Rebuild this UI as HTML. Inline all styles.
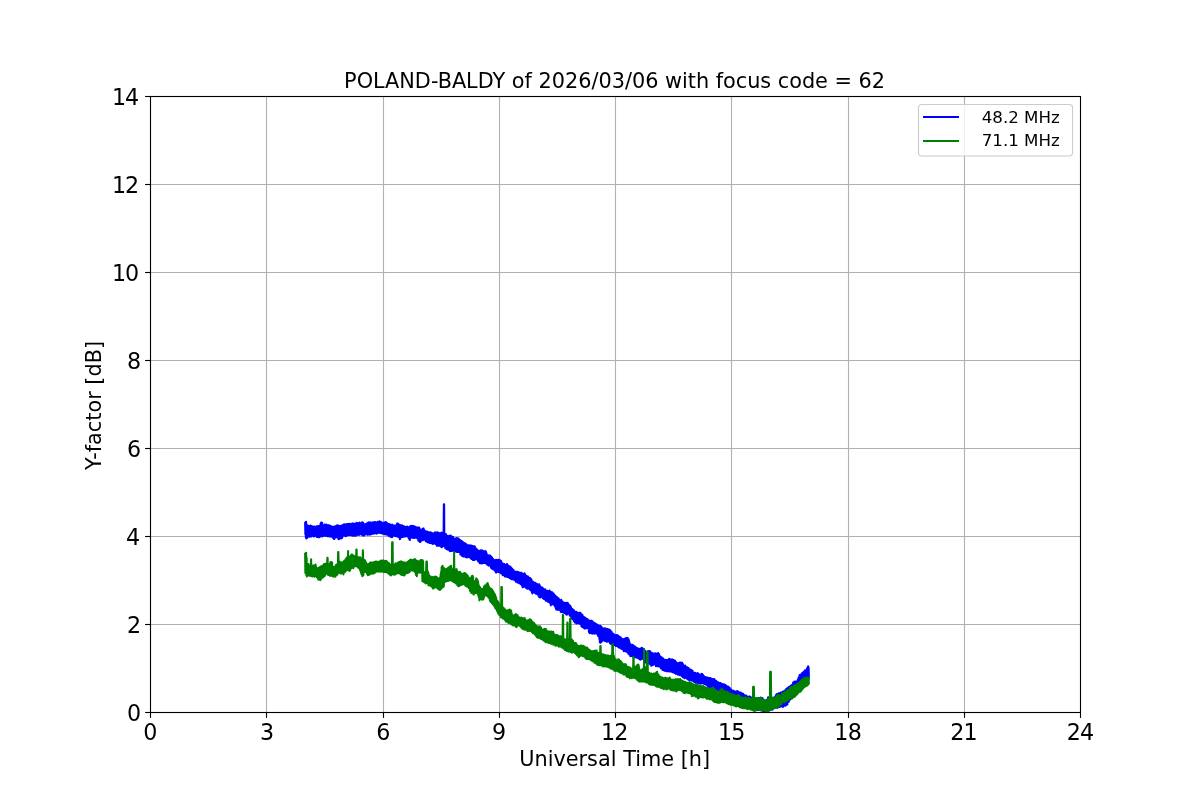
<!DOCTYPE html>
<html lang="en">
<head>
<meta charset="utf-8">
<title>POLAND-BALDY of 2026/03/06 with focus code = 62</title>
<style>
html,body{margin:0;padding:0;background:#fff;}
body{width:1200px;height:800px;overflow:hidden;}
svg{display:block;}
text{font-family:"DejaVu Sans","Liberation Sans",sans-serif;fill:#000;}
.tick{font-size:22.22px;}
.title{font-size:20.83px;}
.lab{font-size:20.83px;}
.leg{font-size:16.67px;}
</style>
</head>
<body>
<svg width="1200" height="800" viewBox="0 0 1200 800">
<rect x="0" y="0" width="1200" height="800" fill="#ffffff"/>
<g stroke="#b0b0b0" stroke-width="1.11" fill="none">
<line x1="266.5" y1="96.5" x2="266.5" y2="712.5"/>
<line x1="383.5" y1="96.5" x2="383.5" y2="712.5"/>
<line x1="499.5" y1="96.5" x2="499.5" y2="712.5"/>
<line x1="615.5" y1="96.5" x2="615.5" y2="712.5"/>
<line x1="731.5" y1="96.5" x2="731.5" y2="712.5"/>
<line x1="848.5" y1="96.5" x2="848.5" y2="712.5"/>
<line x1="964.5" y1="96.5" x2="964.5" y2="712.5"/>
<line x1="150.5" y1="624.5" x2="1080.5" y2="624.5"/>
<line x1="150.5" y1="536.5" x2="1080.5" y2="536.5"/>
<line x1="150.5" y1="448.5" x2="1080.5" y2="448.5"/>
<line x1="150.5" y1="360.5" x2="1080.5" y2="360.5"/>
<line x1="150.5" y1="272.5" x2="1080.5" y2="272.5"/>
<line x1="150.5" y1="184.5" x2="1080.5" y2="184.5"/>
</g>
<clipPath id="axclip"><rect x="150" y="96" width="931" height="617"/></clipPath>
<g clip-path="url(#axclip)" fill="none" stroke-width="2.08" stroke-linejoin="round" stroke-linecap="butt">
<polyline stroke="#0000ff" points="305.12,522.29 305.37,534.35 305.62,522.09 305.87,537.41 306.12,521.86 306.37,538.40 306.62,524.62 306.87,538.12 307.12,526.37 307.37,536.38 307.62,526.14 307.87,535.89 308.12,525.69 308.37,536.82 308.62,525.79 308.87,536.51 309.12,526.91 309.37,536.61 309.62,526.09 309.87,535.87 310.12,526.24 310.37,535.26 310.62,525.47 310.87,536.47 311.12,526.34 311.37,536.57 311.62,526.22 311.87,535.57 312.12,526.17 312.37,534.32 312.62,526.57 312.87,535.65 313.12,527.25 313.37,536.25 313.62,526.82 313.87,536.50 314.12,526.83 314.37,536.20 314.62,526.65 314.87,536.30 315.12,526.77 315.37,535.20 315.62,527.26 315.87,535.68 316.12,527.46 316.37,535.55 316.62,526.33 316.87,536.92 317.12,526.86 317.37,536.83 317.62,526.71 317.87,537.08 318.12,525.93 318.37,537.22 318.62,525.92 318.87,536.86 319.12,526.00 319.37,537.20 319.62,526.17 319.87,535.94 320.12,525.54 320.37,536.46 320.62,523.65 320.87,535.74 321.12,522.61 321.37,536.11 321.62,522.91 321.87,536.05 322.12,522.76 322.37,536.36 322.62,526.04 322.87,536.16 323.12,526.25 323.37,535.57 323.62,525.81 323.87,534.72 324.12,525.10 324.37,535.51 324.62,524.42 324.87,535.61 325.12,525.30 325.37,535.73 325.62,526.06 325.87,536.01 326.12,524.44 326.37,535.73 326.62,525.25 326.87,535.42 327.12,525.36 327.37,536.27 327.62,525.38 327.87,536.30 328.12,525.41 328.37,536.10 328.62,525.25 328.87,535.75 329.12,526.00 329.37,536.58 329.62,525.88 329.87,535.84 330.12,525.70 330.37,536.44 330.62,526.67 330.87,536.42 331.12,526.67 331.37,536.39 331.62,526.38 331.87,535.30 332.12,526.49 332.37,537.13 332.62,527.22 332.87,537.67 333.12,527.78 333.37,538.21 333.62,527.08 333.87,538.96 334.12,527.83 334.37,539.04 334.62,526.30 334.87,538.03 335.12,526.46 335.37,536.79 335.62,526.87 335.87,536.84 336.12,526.13 336.37,537.30 336.62,525.56 336.87,537.33 337.12,526.00 337.37,537.19 337.62,525.29 337.87,537.67 338.12,526.60 338.37,538.85 338.62,526.21 338.87,539.18 339.12,525.78 339.37,537.57 339.62,526.18 339.87,538.69 340.12,526.44 340.37,538.49 340.62,526.10 340.87,536.99 341.12,526.58 341.37,537.86 341.62,525.44 341.87,538.27 342.12,526.05 342.37,537.23 342.62,525.56 342.87,535.49 343.12,524.70 343.37,534.92 343.62,524.45 343.87,535.59 344.12,524.58 344.37,535.53 344.62,524.19 344.87,535.39 345.12,525.29 345.37,536.14 345.62,525.56 345.87,535.34 346.12,524.31 346.37,536.00 346.62,524.74 346.87,535.75 347.12,524.16 347.37,534.82 347.62,523.96 347.87,534.20 348.12,524.25 348.37,534.88 348.62,524.15 348.87,534.40 349.12,524.08 349.37,535.19 349.62,523.69 349.87,534.90 350.12,524.30 350.37,534.32 350.62,524.31 350.87,534.12 351.12,523.98 351.37,535.20 351.62,524.05 351.87,535.17 352.12,523.61 352.37,535.77 352.62,523.66 352.87,534.41 353.12,524.71 353.37,535.55 353.62,523.90 353.87,534.41 354.12,523.48 354.37,535.74 354.62,524.13 354.87,534.00 355.12,524.72 355.37,533.89 355.62,523.70 355.87,535.72 356.12,523.19 356.37,534.93 356.62,522.91 356.87,534.50 357.12,523.61 357.37,534.76 357.62,523.17 357.87,534.57 358.12,523.72 358.37,535.01 358.62,523.20 358.87,535.04 359.12,523.56 359.37,534.20 359.62,522.52 359.87,534.57 360.12,523.15 360.37,534.18 360.62,523.58 360.87,533.69 361.12,523.22 361.37,534.17 361.62,523.79 361.87,534.78 362.12,522.19 362.37,534.84 362.62,523.78 362.87,535.52 363.12,522.74 363.37,535.02 363.62,524.07 363.87,535.59 364.12,523.92 364.37,534.03 364.62,524.53 364.87,534.66 365.12,524.58 365.37,534.57 365.62,524.19 365.87,533.98 366.12,523.90 366.37,534.11 366.62,523.62 366.87,533.90 367.12,523.52 367.37,534.71 367.62,523.80 367.87,534.59 368.12,522.51 368.37,533.44 368.62,522.38 368.87,533.96 369.12,524.38 369.37,534.68 369.62,523.31 369.87,534.41 370.12,522.50 370.37,534.45 370.62,522.34 370.87,533.94 371.12,522.82 371.37,534.18 371.62,523.21 371.87,533.90 372.12,522.71 372.37,533.78 372.62,522.60 372.87,533.75 373.12,522.89 373.37,533.60 373.62,522.24 373.87,533.34 374.12,523.20 374.37,533.37 374.62,522.10 374.87,531.99 375.12,523.15 375.37,532.57 375.62,522.29 375.87,532.88 376.12,523.96 376.37,533.77 376.62,522.62 376.87,533.48 377.12,522.34 377.37,533.33 377.62,521.85 377.87,533.08 378.12,523.13 378.37,532.63 378.62,522.11 378.87,532.50 379.12,521.64 379.37,532.69 379.62,521.36 379.87,532.87 380.12,522.37 380.37,532.88 380.62,521.97 380.87,533.06 381.12,522.28 381.37,532.60 381.62,522.41 381.87,532.42 382.12,524.42 382.37,533.62 382.62,523.42 382.87,532.87 383.12,522.97 383.37,533.50 383.62,523.71 383.87,533.45 384.12,522.49 384.37,534.22 384.62,523.06 384.87,532.84 385.12,522.29 385.37,533.80 385.62,521.97 385.87,534.42 386.12,522.82 386.37,534.39 386.62,522.70 386.87,534.55 387.12,523.72 387.37,534.24 387.62,523.57 387.87,534.85 388.12,524.04 388.37,535.79 388.62,524.11 388.87,535.23 389.12,525.81 389.37,535.09 389.62,524.23 389.87,535.72 390.12,524.51 390.37,536.73 390.62,524.85 390.87,536.01 391.12,524.85 391.37,537.07 391.62,525.56 391.87,537.33 392.12,524.77 392.37,536.95 392.62,524.84 392.87,535.71 393.12,525.80 393.37,535.31 393.62,526.20 393.87,535.48 394.12,525.82 394.37,535.39 394.62,525.90 394.87,535.87 395.12,525.84 395.37,536.07 395.62,525.75 395.87,536.18 396.12,525.95 396.37,535.68 396.62,525.16 396.87,535.48 397.12,523.56 397.37,536.48 397.62,523.45 397.87,536.06 398.12,524.42 398.37,536.87 398.62,524.20 398.87,536.88 399.12,524.70 399.37,537.60 399.62,525.14 399.87,539.12 400.12,524.96 400.37,538.36 400.62,525.20 400.87,536.99 401.12,526.33 401.37,536.63 401.62,525.87 401.87,536.90 402.12,525.32 402.37,536.93 402.62,525.79 402.87,537.01 403.12,527.26 403.37,534.91 403.62,526.58 403.87,536.21 404.12,526.53 404.37,536.37 404.62,526.63 404.87,536.06 405.12,526.99 405.37,536.42 405.62,527.09 405.87,536.37 406.12,527.03 406.37,535.14 406.62,526.93 406.87,535.80 407.12,526.58 407.37,535.99 407.62,526.70 407.87,536.39 408.12,527.36 408.37,537.48 408.62,528.49 408.87,538.30 409.12,528.88 409.37,539.42 409.62,527.13 409.87,540.03 410.12,526.23 410.37,538.36 410.62,526.05 410.87,537.00 411.12,526.03 411.37,537.22 411.62,525.97 411.87,536.67 412.12,525.84 412.37,537.69 412.62,526.69 412.87,537.40 413.12,526.37 413.37,538.02 413.62,526.15 413.87,537.58 414.12,526.96 414.37,537.53 414.62,526.74 414.87,537.85 415.12,526.94 415.37,537.26 415.62,526.83 415.87,537.52 416.12,527.27 416.37,537.61 416.62,527.99 416.87,537.53 417.12,527.98 417.37,538.54 417.62,527.42 417.87,538.96 418.12,527.59 418.37,540.71 418.62,528.14 418.87,540.78 419.12,527.46 419.37,541.23 419.62,528.43 419.87,541.88 420.12,529.66 420.37,541.99 420.62,530.15 420.87,540.95 421.12,529.96 421.37,539.84 421.62,530.58 421.87,539.83 422.12,529.41 422.37,540.11 422.62,529.23 422.87,540.13 423.12,528.47 423.37,539.56 423.62,528.66 423.87,539.10 424.12,529.96 424.37,539.40 424.62,530.87 424.87,539.58 425.12,531.12 425.37,540.47 425.62,531.45 425.87,541.10 426.12,531.55 426.37,540.70 426.62,532.19 426.87,541.06 427.12,531.56 427.37,542.27 427.62,532.27 427.87,542.14 428.12,531.95 428.37,540.89 428.62,532.38 428.87,541.68 429.12,532.80 429.37,542.97 429.62,533.94 429.87,542.31 430.12,532.35 430.37,541.67 430.62,532.71 430.87,542.92 431.12,532.72 431.37,543.19 431.62,532.90 431.87,543.34 432.12,533.02 432.37,543.77 432.62,533.30 432.87,544.05 433.12,534.67 433.37,543.66 433.62,533.35 433.87,543.09 434.12,533.26 434.37,543.36 434.62,533.75 434.87,542.74 435.12,532.38 435.37,543.17 435.62,532.67 435.87,544.14 436.12,533.12 436.37,544.78 436.62,532.60 436.87,545.63 437.12,532.73 437.37,545.79 437.62,532.32 437.87,545.40 438.12,532.54 438.37,544.80 438.62,533.82 438.87,545.72 439.12,533.37 439.37,545.79 439.62,533.25 439.87,545.54 440.12,534.43 440.37,544.87 440.62,534.54 440.87,546.07 441.12,532.85 441.37,547.11 441.62,532.47 441.87,546.97 442.12,532.77 442.37,546.85 442.62,532.82 442.87,545.09 443.12,532.99 443.37,545.26 443.62,532.99 443.87,504.20 444.12,504.20 444.37,546.13 444.62,534.29 444.87,546.62 445.12,533.69 445.37,548.20 445.62,534.31 445.87,548.20 446.12,534.40 446.37,548.77 446.62,535.43 446.87,549.31 447.12,536.13 447.37,549.41 447.62,535.96 447.87,549.47 448.12,536.40 448.37,549.43 448.62,536.50 448.87,550.01 449.12,535.80 449.37,550.29 449.62,537.12 449.87,551.15 450.12,536.53 450.37,550.53 450.62,535.56 450.87,550.95 451.12,535.99 451.37,549.55 451.62,536.34 451.87,550.90 452.12,537.95 452.37,550.77 452.62,537.15 452.87,550.37 453.12,537.11 453.37,550.65 453.62,538.24 453.87,550.75 454.12,538.51 454.37,551.31 454.62,539.21 454.87,551.53 455.12,538.63 455.37,549.95 455.62,539.31 455.87,551.45 456.12,538.70 456.37,551.06 456.62,538.03 456.87,551.93 457.12,540.18 457.37,551.63 457.62,539.61 457.87,550.59 458.12,538.36 458.37,551.95 458.62,538.64 458.87,551.81 459.12,539.47 459.37,551.84 459.62,539.87 459.87,551.84 460.12,540.74 460.37,554.41 460.62,540.59 460.87,554.17 461.12,541.91 461.37,554.61 461.62,540.95 461.87,555.81 462.12,541.81 462.37,555.64 462.62,541.81 462.87,556.34 463.12,542.52 463.37,555.23 463.62,543.43 463.87,556.56 464.12,543.07 464.37,556.34 464.62,543.20 464.87,555.50 465.12,544.24 465.37,556.48 465.62,543.63 465.87,557.28 466.12,544.29 466.37,556.10 466.62,544.86 466.87,556.85 467.12,545.05 467.37,557.42 467.62,545.29 467.87,556.90 468.12,545.43 468.37,556.85 468.62,545.22 468.87,556.09 469.12,545.45 469.37,556.15 469.62,545.22 469.87,557.51 470.12,545.77 470.37,556.54 470.62,545.77 470.87,558.15 471.12,546.42 471.37,559.06 471.62,545.55 471.87,558.90 472.12,545.93 472.37,558.35 472.62,545.97 472.87,559.86 473.12,546.91 473.37,559.93 473.62,546.46 473.87,559.93 474.12,546.69 474.37,560.02 474.62,546.27 474.87,559.70 475.12,547.10 475.37,559.08 475.62,548.18 475.87,558.47 476.12,548.70 476.37,559.17 476.62,549.23 476.87,559.11 477.12,549.61 477.37,559.67 477.62,550.39 477.87,560.64 478.12,550.44 478.37,561.45 478.62,550.98 478.87,561.83 479.12,551.08 479.37,562.52 479.62,551.71 479.87,563.12 480.12,550.71 480.37,562.93 480.62,550.29 480.87,563.15 481.12,551.23 481.37,562.88 481.62,550.52 481.87,563.40 482.12,550.22 482.37,561.83 482.62,550.83 482.87,563.31 483.12,551.06 483.37,562.09 483.62,551.45 483.87,561.91 484.12,551.63 484.37,563.06 484.62,551.21 484.87,563.05 485.12,551.07 485.37,562.35 485.62,551.35 485.87,562.46 486.12,552.01 486.37,563.80 486.62,553.49 486.87,564.15 487.12,554.92 487.37,564.64 487.62,555.40 487.87,564.71 488.12,555.83 488.37,565.48 488.62,555.51 488.87,565.67 489.12,555.20 489.37,565.28 489.62,555.61 489.87,564.92 490.12,555.48 490.37,565.14 490.62,556.14 490.87,567.39 491.12,556.72 491.37,568.01 491.62,557.68 491.87,568.79 492.12,557.66 492.37,568.31 492.62,558.79 492.87,568.11 493.12,558.99 493.37,569.39 493.62,559.98 493.87,569.36 494.12,560.60 494.37,569.94 494.62,560.41 494.87,569.96 495.12,560.02 495.37,571.56 495.62,560.30 495.87,572.56 496.12,559.67 496.37,572.41 496.62,560.13 496.87,571.45 497.12,560.86 497.37,571.64 497.62,561.05 497.87,571.35 498.12,559.89 498.37,571.31 498.62,559.90 498.87,572.28 499.12,559.99 499.37,571.59 499.62,560.77 499.87,572.22 500.12,560.30 500.37,572.36 500.62,560.85 500.87,573.16 501.12,561.01 501.37,573.13 501.62,562.19 501.87,573.03 502.12,564.21 502.37,574.65 502.62,564.24 502.87,575.16 503.12,563.73 503.37,575.20 503.62,564.29 503.87,574.93 504.12,564.02 504.37,575.47 504.62,565.64 504.87,576.42 505.12,564.86 505.37,576.59 505.62,565.20 505.87,576.40 506.12,564.86 506.37,576.03 506.62,565.26 506.87,575.47 507.12,564.11 507.37,576.86 507.62,565.00 507.87,576.65 508.12,565.49 508.37,576.90 508.62,566.47 508.87,577.57 509.12,566.17 509.37,577.96 509.62,566.81 509.87,577.97 510.12,566.56 510.37,578.21 510.62,567.36 510.87,578.80 511.12,567.49 511.37,579.10 511.62,568.88 511.87,579.31 512.12,568.49 512.37,578.87 512.62,569.54 512.87,578.60 513.12,569.79 513.37,579.49 513.62,570.34 513.87,579.52 514.12,571.42 514.37,580.08 514.62,571.54 514.87,579.97 515.12,571.98 515.37,580.30 515.62,571.84 515.87,581.68 516.12,572.55 516.37,581.36 516.62,571.78 516.87,581.59 517.12,571.90 517.37,582.47 517.62,572.09 517.87,581.87 518.12,572.19 518.37,582.69 518.62,572.00 518.87,582.90 519.12,572.94 519.37,583.03 519.62,573.57 519.87,583.15 520.12,573.33 520.37,583.88 520.62,572.90 520.87,584.16 521.12,573.11 521.37,584.57 521.62,572.79 521.87,585.21 522.12,574.27 522.37,586.67 522.62,574.06 522.87,587.35 523.12,573.93 523.37,586.63 523.62,574.97 523.87,585.83 524.12,573.80 524.37,586.35 524.62,573.35 524.87,586.24 525.12,574.49 525.37,587.20 525.62,576.78 525.87,587.16 526.12,575.96 526.37,588.19 526.62,575.73 526.87,588.47 527.12,577.72 527.37,588.66 527.62,577.11 527.87,588.71 528.12,576.49 528.37,587.63 528.62,577.56 528.87,588.53 529.12,577.80 529.37,588.48 529.62,579.58 529.87,589.68 530.12,578.14 530.37,589.94 530.62,578.61 530.87,589.37 531.12,579.26 531.37,591.08 531.62,579.92 531.87,592.11 532.12,581.59 532.37,593.52 532.62,582.29 532.87,592.24 533.12,581.82 533.37,591.21 533.62,582.34 533.87,592.06 534.12,583.36 534.37,592.55 534.62,583.17 534.87,592.91 535.12,582.72 535.37,593.24 535.62,583.00 535.87,593.81 536.12,584.14 536.37,592.49 536.62,583.96 536.87,593.86 537.12,584.03 537.37,593.62 537.62,584.29 537.87,593.80 538.12,585.00 538.37,595.76 538.62,584.75 538.87,595.95 539.12,584.25 539.37,597.23 539.62,585.36 539.87,596.59 540.12,586.03 540.37,597.36 540.62,586.75 540.87,596.14 541.12,587.59 541.37,596.25 541.62,588.32 541.87,596.75 542.12,587.53 542.37,597.19 542.62,587.71 542.87,598.30 543.12,588.90 543.37,598.37 543.62,589.13 543.87,598.95 544.12,589.89 544.37,599.15 544.62,589.45 544.87,598.49 545.12,589.40 545.37,598.96 545.62,589.96 545.87,600.68 546.12,591.04 546.37,600.20 546.62,591.38 546.87,600.59 547.12,591.12 547.37,601.25 547.62,590.74 547.87,601.67 548.12,591.60 548.37,601.78 548.62,591.98 548.87,601.73 549.12,592.16 549.37,602.53 549.62,590.62 549.87,602.35 550.12,591.94 550.37,603.37 550.62,592.82 550.87,605.35 551.12,592.16 551.37,603.60 551.62,593.36 551.87,603.93 552.12,592.39 552.37,604.26 552.62,593.01 552.87,604.30 553.12,593.17 553.37,604.41 553.62,593.49 553.87,604.79 554.12,594.66 554.37,604.25 554.62,595.83 554.87,606.33 555.12,595.59 555.37,606.90 555.62,595.96 555.87,608.65 556.12,596.64 556.37,609.48 556.62,596.78 556.87,609.06 557.12,597.53 557.37,609.44 557.62,598.50 557.87,610.07 558.12,598.08 558.37,609.38 558.62,598.46 558.87,609.70 559.12,599.48 559.37,609.00 559.62,600.50 559.87,609.88 560.12,600.80 560.37,610.63 560.62,600.87 560.87,611.92 561.12,599.71 561.37,611.46 561.62,600.63 561.87,611.87 562.12,601.46 562.37,611.62 562.62,602.21 562.87,611.32 563.12,602.18 563.37,612.43 563.62,602.85 563.87,612.07 564.12,602.77 564.37,612.84 564.62,603.52 564.87,611.74 565.12,603.03 565.37,613.07 565.62,602.80 565.87,613.87 566.12,603.09 566.37,614.37 566.62,603.27 566.87,614.64 567.12,602.72 567.37,613.55 567.62,602.96 567.87,613.22 568.12,603.29 568.37,612.98 568.62,605.52 568.87,613.55 569.12,605.13 569.37,614.77 569.62,605.85 569.87,615.75 570.12,605.83 570.37,615.39 570.62,606.63 570.87,616.12 571.12,607.70 571.37,617.65 571.62,608.70 571.87,618.18 572.12,608.78 572.37,618.91 572.62,609.31 572.87,619.31 573.12,609.82 573.37,619.67 573.62,610.91 573.87,620.98 574.12,610.55 574.37,621.74 574.62,611.49 574.87,622.38 575.12,611.89 575.37,622.27 575.62,612.64 575.87,622.33 576.12,611.73 576.37,623.37 576.62,612.57 576.87,623.39 577.12,612.64 577.37,622.71 577.62,612.55 577.87,622.71 578.12,613.14 578.37,623.08 578.62,613.14 578.87,623.33 579.12,613.19 579.37,623.82 579.62,612.79 579.87,623.82 580.12,612.72 580.37,623.67 580.62,613.02 580.87,624.19 581.12,614.55 581.37,626.13 581.62,614.36 581.87,625.59 582.12,614.78 582.37,627.13 582.62,615.35 582.87,625.56 583.12,617.34 583.37,626.88 583.62,616.76 583.87,627.75 584.12,617.00 584.37,628.52 584.62,617.54 584.87,628.40 585.12,618.84 585.37,628.36 585.62,618.33 585.87,628.35 586.12,618.73 586.37,627.50 586.62,618.73 586.87,628.02 587.12,619.86 587.37,627.75 587.62,619.39 587.87,628.01 588.12,620.28 588.37,627.83 588.62,621.13 588.87,631.88 589.12,620.58 589.37,632.72 589.62,620.73 589.87,633.23 590.12,620.71 590.37,632.13 590.62,620.94 590.87,632.10 591.12,620.82 591.37,633.09 591.62,620.91 591.87,633.47 592.12,621.64 592.37,633.45 592.62,621.57 592.87,633.65 593.12,622.26 593.37,632.65 593.62,622.92 593.87,633.30 594.12,622.99 594.37,633.26 594.62,623.39 594.87,633.63 595.12,623.37 595.37,632.22 595.62,623.90 595.87,632.82 596.12,624.03 596.37,632.03 596.62,624.43 596.87,633.56 597.12,624.97 597.37,634.19 597.62,624.73 597.87,635.64 598.12,625.61 598.37,635.97 598.62,626.64 598.87,635.09 599.12,625.74 599.37,638.95 599.62,627.28 599.87,642.38 600.12,625.90 600.37,642.76 600.62,626.44 600.87,640.39 601.12,626.64 601.37,642.08 601.62,626.95 601.87,641.52 602.12,628.12 602.37,640.21 602.62,630.90 602.87,640.18 603.12,629.30 603.37,639.76 603.62,628.51 603.87,640.45 604.12,628.51 604.37,639.97 604.62,628.99 604.87,641.01 605.12,628.19 605.37,640.83 605.62,628.53 605.87,641.14 606.12,629.57 606.37,640.25 606.62,629.41 606.87,641.62 607.12,628.98 607.37,641.73 607.62,629.88 607.87,640.90 608.12,629.39 608.37,640.16 608.62,629.68 608.87,640.44 609.12,629.81 609.37,642.05 609.62,629.69 609.87,642.99 610.12,630.36 610.37,643.41 610.62,630.96 610.87,643.89 611.12,631.24 611.37,643.94 611.62,632.07 611.87,644.59 612.12,633.64 612.37,644.70 612.62,633.36 612.87,645.36 613.12,633.76 613.37,644.99 613.62,633.94 613.87,645.06 614.12,635.70 614.37,644.91 614.62,634.93 614.87,645.03 615.12,635.04 615.37,645.62 615.62,635.93 615.87,645.99 616.12,635.23 616.37,645.63 616.62,635.10 616.87,645.57 617.12,635.51 617.37,646.16 617.62,635.30 617.87,646.06 618.12,635.69 618.37,647.23 618.62,636.07 618.87,647.04 619.12,637.10 619.37,647.79 619.62,637.26 619.87,647.64 620.12,637.28 620.37,647.92 620.62,637.18 620.87,648.26 621.12,638.33 621.37,648.78 621.62,638.89 621.87,648.99 622.12,639.88 622.37,648.76 622.62,639.79 622.87,649.48 623.12,639.11 623.37,650.25 623.62,639.63 623.87,651.23 624.12,639.19 624.37,650.35 624.62,638.81 624.87,649.83 625.12,638.76 625.37,650.91 625.62,639.02 625.87,651.53 626.12,637.98 626.37,651.81 626.62,638.43 626.87,651.47 627.12,639.05 627.37,651.17 627.62,637.83 627.87,652.74 628.12,639.51 628.37,653.64 628.62,639.40 628.87,654.04 629.12,641.14 629.37,654.57 629.62,642.83 629.87,654.55 630.12,644.28 630.37,656.33 630.62,644.29 630.87,655.87 631.12,644.77 631.37,655.67 631.62,645.22 631.87,655.88 632.12,645.70 632.37,655.81 632.62,644.71 632.87,656.55 633.12,645.41 633.37,656.10 633.62,646.40 633.87,656.01 634.12,646.36 634.37,657.36 634.62,646.83 634.87,657.13 635.12,646.44 635.37,656.71 635.62,646.92 635.87,657.09 636.12,647.86 636.37,657.50 636.62,647.96 636.87,657.60 637.12,648.38 637.37,657.48 637.62,648.28 637.87,656.73 638.12,648.58 638.37,658.34 638.62,648.76 638.87,658.30 639.12,649.15 639.37,658.90 639.62,648.89 639.87,659.21 640.12,649.51 640.37,659.65 640.62,649.08 640.87,659.05 641.12,648.25 641.37,657.43 641.62,647.83 641.87,658.98 642.12,648.12 642.37,658.72 642.62,649.08 642.87,658.43 643.12,648.67 643.37,658.73 643.62,649.06 643.87,658.59 644.12,649.57 644.37,660.88 644.62,650.47 644.87,660.84 645.12,651.14 645.37,662.08 645.62,651.82 645.87,662.41 646.12,651.96 646.37,662.91 646.62,652.28 646.87,662.23 647.12,651.75 647.37,662.40 647.62,651.39 647.87,662.80 648.12,650.97 648.37,663.57 648.62,651.56 648.87,663.34 649.12,651.01 649.37,662.95 649.62,651.92 649.87,663.38 650.12,651.32 650.37,664.78 650.62,652.15 650.87,665.09 651.12,653.43 651.37,665.83 651.62,653.12 651.87,665.54 652.12,653.10 652.37,664.58 652.62,653.67 652.87,664.96 653.12,653.56 653.37,664.69 653.62,654.76 653.87,664.17 654.12,653.76 654.37,663.92 654.62,654.10 654.87,664.04 655.12,653.41 655.37,664.22 655.62,654.29 655.87,666.15 656.12,653.86 656.37,665.61 656.62,653.81 656.87,665.85 657.12,653.73 657.37,666.10 657.62,653.48 657.87,665.25 658.12,653.02 658.37,666.45 658.62,653.61 658.87,665.11 659.12,654.32 659.37,666.05 659.62,656.54 659.87,666.25 660.12,656.28 660.37,667.12 660.62,656.51 660.87,668.31 661.12,657.08 661.37,667.92 661.62,657.63 661.87,668.02 662.12,657.91 662.37,669.84 662.62,658.61 662.87,669.24 663.12,658.43 663.37,669.84 663.62,659.18 663.87,670.00 664.12,660.18 664.37,670.71 664.62,660.09 664.87,670.27 665.12,659.91 665.37,670.73 665.62,660.89 665.87,671.06 666.12,660.91 666.37,671.14 666.62,659.99 666.87,670.29 667.12,660.04 667.37,671.06 667.62,659.99 667.87,671.20 668.12,660.38 668.37,671.19 668.62,660.18 668.87,670.81 669.12,658.87 669.37,671.41 669.62,659.33 669.87,671.02 670.12,660.36 670.37,670.69 670.62,659.44 670.87,671.54 671.12,660.45 671.37,670.79 671.62,659.75 671.87,670.97 672.12,659.25 672.37,672.26 672.62,659.90 672.87,672.10 673.12,660.31 673.37,671.97 673.62,660.01 673.87,672.20 674.12,660.47 674.37,672.84 674.62,660.76 674.87,672.94 675.12,660.91 675.37,673.30 675.62,661.45 675.87,673.96 676.12,662.33 676.37,673.39 676.62,662.48 676.87,673.31 677.12,663.06 677.37,673.48 677.62,663.99 677.87,674.60 678.12,663.50 678.37,674.59 678.62,663.28 678.87,673.32 679.12,662.86 679.37,674.12 679.62,662.59 679.87,675.17 680.12,664.79 680.37,673.16 680.62,662.42 680.87,674.53 681.12,662.84 681.37,675.30 681.62,662.84 681.87,676.16 682.12,662.79 682.37,675.25 682.62,663.73 682.87,677.11 683.12,664.34 683.37,676.62 683.62,665.84 683.87,677.50 684.12,665.78 684.37,678.10 684.62,667.08 684.87,678.27 685.12,665.65 685.37,677.74 685.62,666.41 685.87,677.72 686.12,666.97 686.37,677.02 686.62,667.19 686.87,677.96 687.12,667.35 687.37,679.14 687.62,667.62 687.87,679.16 688.12,668.46 688.37,679.73 688.62,668.16 688.87,679.50 689.12,669.89 689.37,679.87 689.62,669.79 689.87,679.95 690.12,669.65 690.37,680.03 690.62,670.22 690.87,680.09 691.12,669.73 691.37,680.46 691.62,670.55 691.87,680.81 692.12,671.40 692.37,680.66 692.62,670.91 692.87,680.51 693.12,672.98 693.37,680.72 693.62,672.42 693.87,681.53 694.12,673.33 694.37,682.12 694.62,673.04 694.87,681.86 695.12,672.85 695.37,682.08 695.62,673.55 695.87,683.08 696.12,673.56 696.37,683.84 696.62,673.71 696.87,683.40 697.12,673.60 697.37,683.57 697.62,672.96 697.87,683.76 698.12,673.81 698.37,683.30 698.62,674.08 698.87,682.87 699.12,674.27 699.37,683.08 699.62,675.19 699.87,683.56 700.12,675.10 700.37,683.62 700.62,674.84 700.87,683.17 701.12,674.31 701.37,682.56 701.62,673.75 701.87,683.39 702.12,673.97 702.37,682.34 702.62,674.47 702.87,682.29 703.12,675.10 703.37,683.19 703.62,675.80 703.87,683.65 704.12,676.54 704.37,683.76 704.62,676.94 704.87,684.10 705.12,677.28 705.37,684.37 705.62,676.96 705.87,684.04 706.12,677.74 706.37,684.80 706.62,677.80 706.87,685.03 707.12,677.84 707.37,685.53 707.62,677.69 707.87,686.31 708.12,678.15 708.37,686.62 708.62,677.91 708.87,687.00 709.12,678.19 709.37,687.22 709.62,678.30 709.87,687.34 710.12,677.96 710.37,686.64 710.62,678.58 710.87,686.47 711.12,678.56 711.37,687.21 711.62,679.92 711.87,686.70 712.12,679.11 712.37,688.16 712.62,680.45 712.87,688.16 713.12,679.39 713.37,688.56 713.62,679.44 713.87,688.87 714.12,679.12 714.37,688.69 714.62,679.62 714.87,688.97 715.12,680.53 715.37,688.97 715.62,680.65 715.87,689.35 716.12,680.80 716.37,689.44 716.62,681.65 716.87,689.85 717.12,682.11 717.37,689.94 717.62,682.32 717.87,689.78 718.12,682.30 718.37,690.65 718.62,682.43 718.87,691.07 719.12,683.32 719.37,691.15 719.62,683.07 719.87,690.90 720.12,683.08 720.37,691.56 720.62,682.93 720.87,690.37 721.12,683.84 721.37,692.38 721.62,684.51 721.87,691.75 722.12,684.06 722.37,693.12 722.62,685.18 722.87,692.91 723.12,684.43 723.37,693.05 723.62,684.68 723.87,692.64 724.12,684.40 724.37,693.51 724.62,684.72 724.87,693.41 725.12,685.03 725.37,694.02 725.62,685.59 725.87,694.30 726.12,685.56 726.37,694.90 726.62,686.81 726.87,694.97 727.12,686.45 727.37,694.47 727.62,686.42 727.87,695.07 728.12,687.37 728.37,695.98 728.62,686.81 728.87,695.85 729.12,688.18 729.37,695.96 729.62,687.81 729.87,696.49 730.12,688.92 730.37,696.31 730.62,688.92 730.87,696.55 731.12,689.90 731.37,697.37 731.62,690.13 731.87,697.74 732.12,691.15 732.37,698.09 732.62,691.48 732.87,698.03 733.12,690.84 733.37,697.86 733.62,690.84 733.87,697.65 734.12,691.85 734.37,698.89 734.62,692.14 734.87,699.17 735.12,691.44 735.37,699.41 735.62,691.81 735.87,699.40 736.12,692.41 736.37,699.62 736.62,691.53 736.87,699.53 737.12,691.12 737.37,699.91 737.62,691.05 737.87,699.75 738.12,692.08 738.37,701.14 738.62,692.68 738.87,701.65 739.12,693.08 739.37,700.52 739.62,692.20 739.87,700.82 740.12,692.47 740.37,702.72 740.62,693.36 740.87,702.80 741.12,692.79 741.37,702.59 741.62,693.37 741.87,702.92 742.12,693.47 742.37,703.02 742.62,694.27 742.87,703.64 743.12,693.89 743.37,702.35 743.62,694.68 743.87,703.72 744.12,695.36 744.37,704.06 744.62,695.36 744.87,704.59 745.12,695.67 745.37,704.01 745.62,695.82 745.87,704.71 746.12,695.65 746.37,705.25 746.62,695.99 746.87,704.46 747.12,696.60 747.37,705.89 747.62,696.84 747.87,705.24 748.12,697.10 748.37,705.56 748.62,696.76 748.87,706.04 749.12,696.55 749.37,706.91 749.62,696.55 749.87,706.53 750.12,696.85 750.37,706.07 750.62,697.37 750.87,706.95 751.12,698.01 751.37,707.71 751.62,697.74 751.87,708.14 752.12,698.13 752.37,707.65 752.62,697.75 752.87,707.15 753.12,698.10 753.37,708.36 753.62,698.24 753.87,708.26 754.12,698.15 754.37,707.96 754.62,698.91 754.87,708.01 755.12,698.37 755.37,709.13 755.62,698.47 755.87,708.98 756.12,698.24 756.37,709.52 756.62,698.88 756.87,709.18 757.12,698.31 757.37,709.34 757.62,698.52 757.87,709.96 758.12,699.04 758.37,710.07 758.62,698.23 758.87,709.13 759.12,699.34 759.37,709.41 759.62,698.11 759.87,708.37 760.12,697.87 760.37,710.19 760.62,697.44 760.87,709.91 761.12,698.05 761.37,710.24 761.62,698.36 761.87,710.76 762.12,698.08 762.37,709.62 762.62,698.18 762.87,710.22 763.12,699.92 763.37,710.94 763.62,699.81 763.87,710.71 764.12,700.52 764.37,710.62 764.62,700.50 764.87,711.02 765.12,700.86 765.37,710.68 765.62,700.43 765.87,710.62 766.12,700.45 766.37,711.51 766.62,701.35 766.87,710.85 767.12,699.76 767.37,710.13 767.62,699.14 767.87,710.01 768.12,697.28 768.37,709.77 768.62,697.70 768.87,710.03 769.12,697.73 769.37,710.43 769.62,698.60 769.87,709.65 770.12,698.15 770.37,709.72 770.62,698.37 770.87,709.47 771.12,699.29 771.37,708.65 771.62,699.27 771.87,708.50 772.12,698.73 772.37,709.67 772.62,699.78 772.87,708.94 773.12,697.78 773.37,708.51 773.62,698.23 773.87,708.28 774.12,698.86 774.37,707.76 774.62,697.36 774.87,707.81 775.12,696.93 775.37,706.98 775.62,696.17 775.87,707.34 776.12,694.91 776.37,707.48 776.62,695.76 776.87,707.74 777.12,694.03 777.37,707.67 777.62,694.30 777.87,707.35 778.12,693.92 778.37,707.34 778.62,693.34 778.87,706.75 779.12,693.57 779.37,706.63 779.62,694.66 779.87,707.07 780.12,692.97 780.37,706.36 780.62,692.60 780.87,706.22 781.12,693.30 781.37,706.08 781.62,692.57 781.87,705.56 782.12,692.20 782.37,706.26 782.62,691.89 782.87,706.87 783.12,693.62 783.37,705.42 783.62,691.66 783.87,704.04 784.12,692.04 784.37,705.71 784.62,690.71 784.87,704.10 785.12,691.24 785.37,705.64 785.62,689.42 785.87,704.90 786.12,690.50 786.37,704.84 786.62,689.09 786.87,704.69 787.12,688.40 787.37,704.47 787.62,688.30 787.87,702.21 788.12,688.35 788.37,701.72 788.62,687.04 788.87,701.73 789.12,686.85 789.37,699.14 789.62,687.50 789.87,699.61 790.12,686.53 790.37,699.29 790.62,686.03 790.87,698.11 791.12,685.55 791.37,698.51 791.62,685.04 791.87,698.49 792.12,685.52 792.37,696.38 792.62,685.13 792.87,696.66 793.12,682.71 793.37,696.46 793.62,682.01 793.87,695.85 794.12,681.80 794.37,695.06 794.62,681.89 794.87,694.15 795.12,682.62 795.37,693.57 795.62,681.43 795.87,692.17 796.12,681.55 796.37,693.25 796.62,682.86 796.87,692.36 797.12,681.83 797.37,691.95 797.62,680.30 797.87,691.64 798.12,679.15 798.37,690.15 798.62,677.64 798.87,690.11 799.12,677.26 799.37,689.50 799.62,674.98 799.87,688.44 800.12,675.80 800.37,688.13 800.62,674.72 800.87,687.56 801.12,674.74 801.37,686.66 801.62,673.50 801.87,686.97 802.12,673.23 802.37,685.38 802.62,672.85 802.87,684.84 803.12,673.14 803.37,685.41 803.62,672.15 803.87,684.85 804.12,671.91 804.37,683.92 804.62,670.76 804.87,682.21 805.12,670.38 805.37,682.42 805.62,670.22 805.87,681.57 806.12,670.03 806.37,681.04 806.62,669.95 806.87,680.24 807.12,668.05 807.37,679.34 807.62,668.08 807.87,679.44 808.12,666.31 808.37,679.54 808.62,667.65 808.87,678.52"/>
<polyline stroke="#008000" points="305.12,552.73 305.37,573.08 305.62,553.97 305.87,573.50 306.12,552.74 306.37,575.30 306.62,557.73 306.87,576.42 307.12,565.48 307.37,575.45 307.62,565.47 307.87,575.35 308.12,564.15 308.37,575.06 308.62,564.16 308.87,574.84 309.12,565.48 309.37,575.82 309.62,565.69 309.87,575.42 310.12,566.23 310.37,575.63 310.62,565.99 310.87,575.98 311.12,559.25 311.37,576.28 311.62,567.06 311.87,576.28 312.12,565.86 312.37,576.43 312.62,565.80 312.87,575.72 313.12,565.45 313.37,575.97 313.62,565.18 313.87,575.70 314.12,565.53 314.37,576.63 314.62,565.44 314.87,575.60 315.12,565.23 315.37,576.21 315.62,564.53 315.87,575.90 316.12,567.15 316.37,576.43 316.62,569.06 316.87,577.17 317.12,569.01 317.37,577.73 317.62,569.60 317.87,578.39 318.12,567.97 318.37,579.61 318.62,568.01 318.87,579.42 319.12,567.43 319.37,578.69 319.62,567.44 319.87,579.19 320.12,567.02 320.37,580.14 320.62,567.22 320.87,578.84 321.12,566.35 321.37,578.73 321.62,566.37 321.87,576.79 322.12,566.16 322.37,577.28 322.62,566.07 322.87,577.50 323.12,565.37 323.37,576.75 323.62,564.55 323.87,576.59 324.12,564.15 324.37,576.19 324.62,564.25 324.87,575.67 325.12,563.72 325.37,574.61 325.62,563.94 325.87,573.36 326.12,563.68 326.37,573.69 326.62,563.94 326.87,573.78 327.12,563.89 327.37,557.75 327.62,557.75 327.87,574.68 328.12,564.18 328.37,574.92 328.62,564.44 328.87,575.04 329.12,564.49 329.37,574.33 329.62,564.66 329.87,575.70 330.12,563.10 330.37,575.80 330.62,562.09 330.87,575.63 331.12,562.05 331.37,575.20 331.62,562.24 331.87,575.78 332.12,562.52 332.37,574.81 332.62,566.99 332.87,576.37 333.12,567.00 333.37,575.25 333.62,566.95 333.87,576.11 334.12,567.39 334.37,576.37 334.62,566.83 334.87,576.19 335.12,566.82 335.37,576.69 335.62,565.82 335.87,575.77 336.12,564.86 336.37,574.57 336.62,564.70 336.87,574.92 337.12,564.39 337.37,574.40 337.62,564.54 337.87,573.60 338.12,552.05 338.37,552.05 338.62,562.76 338.87,572.06 339.12,562.59 339.37,572.61 339.62,561.47 339.87,572.95 340.12,562.24 340.37,571.94 340.62,563.09 340.87,573.77 341.12,562.51 341.37,572.98 341.62,562.59 341.87,572.61 342.12,562.51 342.37,572.51 342.62,562.33 342.87,572.63 343.12,562.00 343.37,574.39 343.62,561.95 343.87,572.92 344.12,560.90 344.37,572.46 344.62,560.58 344.87,572.15 345.12,560.27 345.37,571.47 345.62,559.33 345.87,570.09 346.12,558.87 346.37,570.48 346.62,557.90 346.87,569.82 347.12,557.22 347.37,568.88 347.62,557.13 347.87,569.17 348.12,550.95 348.37,570.31 348.62,557.60 348.87,569.50 349.12,556.40 349.37,570.91 349.62,556.93 349.87,570.79 350.12,556.87 350.37,569.02 350.62,557.04 350.87,568.74 351.12,555.26 351.37,568.19 351.62,554.62 351.87,567.40 352.12,554.45 352.37,566.92 352.62,554.87 352.87,567.28 353.12,555.94 353.37,568.17 353.62,556.70 353.87,566.74 354.12,556.15 354.37,566.56 354.62,556.88 354.87,566.27 355.12,557.34 355.37,566.30 355.62,558.25 355.87,566.24 356.12,556.86 356.37,549.45 356.62,549.45 356.87,565.15 357.12,557.55 357.37,566.74 357.62,557.61 357.87,567.36 358.12,557.35 358.37,567.76 358.62,557.92 358.87,567.63 359.12,557.25 359.37,568.44 359.62,557.85 359.87,569.83 360.12,557.32 360.37,570.64 360.62,558.45 360.87,572.28 361.12,559.09 361.37,573.88 361.62,558.87 361.87,574.85 362.12,558.82 362.37,576.12 362.62,559.11 362.87,550.20 363.12,559.35 363.37,575.27 363.62,560.14 363.87,572.05 364.12,559.89 364.37,571.65 364.62,560.82 364.87,571.76 365.12,560.48 365.37,572.01 365.62,562.10 365.87,571.57 366.12,562.91 366.37,571.54 366.62,563.71 366.87,573.40 367.12,565.18 367.37,574.31 367.62,564.62 367.87,575.14 368.12,564.45 368.37,574.57 368.62,564.43 368.87,574.49 369.12,563.91 369.37,574.69 369.62,563.45 369.87,574.14 370.12,562.56 370.37,573.95 370.62,563.05 370.87,573.78 371.12,562.46 371.37,572.39 371.62,562.78 371.87,573.41 372.12,562.81 372.37,573.51 372.62,562.78 372.87,573.80 373.12,562.54 373.37,572.47 373.62,562.37 373.87,573.11 374.12,562.57 374.37,572.88 374.62,562.15 374.87,572.16 375.12,561.97 375.37,572.53 375.62,561.64 375.87,571.70 376.12,562.49 376.37,571.52 376.62,562.35 376.87,571.51 377.12,561.45 377.37,571.58 377.62,561.67 377.87,571.36 378.12,562.50 378.37,571.46 378.62,562.19 378.87,571.41 379.12,561.82 379.37,571.07 379.62,561.73 379.87,571.55 380.12,561.17 380.37,571.72 380.62,560.86 380.87,571.32 381.12,561.15 381.37,571.48 381.62,560.52 381.87,569.94 382.12,561.31 382.37,571.43 382.62,561.20 382.87,571.48 383.12,560.47 383.37,571.99 383.62,560.48 383.87,571.27 384.12,561.14 384.37,571.92 384.62,561.65 384.87,571.84 385.12,561.12 385.37,571.33 385.62,560.95 385.87,571.87 386.12,560.87 386.37,571.85 386.62,561.26 386.87,572.43 387.12,561.98 387.37,572.56 387.62,563.14 387.87,572.49 388.12,562.90 388.37,573.43 388.62,563.92 388.87,573.77 389.12,563.35 389.37,574.19 389.62,564.34 389.87,574.13 390.12,565.66 390.37,575.14 390.62,565.20 390.87,575.38 391.12,564.61 391.37,574.94 391.62,564.30 391.87,573.98 392.12,542.35 392.37,542.35 392.62,542.35 392.87,573.37 393.12,564.77 393.37,574.49 393.62,565.27 393.87,574.69 394.12,564.46 394.37,574.49 394.62,564.18 394.87,574.17 395.12,564.48 395.37,574.53 395.62,563.35 395.87,573.92 396.12,564.25 396.37,573.39 396.62,564.05 396.87,572.96 397.12,563.64 397.37,573.00 397.62,563.06 397.87,573.23 398.12,562.64 398.37,572.62 398.62,562.28 398.87,572.60 399.12,562.77 399.37,573.12 399.62,561.71 399.87,573.23 400.12,562.39 400.37,574.00 400.62,561.55 400.87,574.58 401.12,561.29 401.37,574.71 401.62,561.77 401.87,574.68 402.12,562.10 402.37,574.92 402.62,562.33 402.87,575.06 403.12,562.54 403.37,575.31 403.62,562.18 403.87,575.10 404.12,562.48 404.37,575.41 404.62,563.76 404.87,574.50 405.12,562.50 405.37,573.95 405.62,563.02 405.87,573.53 406.12,562.94 406.37,572.67 406.62,562.51 406.87,572.98 407.12,562.97 407.37,572.50 407.62,562.06 407.87,572.94 408.12,562.09 408.37,572.39 408.62,561.15 408.87,571.72 409.12,561.44 409.37,572.28 409.62,560.51 409.87,571.47 410.12,559.86 410.37,570.66 410.62,559.91 410.87,569.96 411.12,560.38 411.37,570.12 411.62,559.81 411.87,570.34 412.12,560.04 412.37,570.35 412.62,560.74 412.87,570.30 413.12,560.13 413.37,570.57 413.62,560.63 413.87,570.88 414.12,559.60 414.37,570.11 414.62,559.03 414.87,572.08 415.12,559.33 415.37,572.13 415.62,560.41 415.87,574.67 416.12,560.48 416.37,575.28 416.62,561.27 416.87,576.33 417.12,560.74 417.37,573.37 417.62,561.78 417.87,572.64 418.12,561.65 418.37,572.43 418.62,562.38 418.87,572.19 419.12,561.37 419.37,572.13 419.62,561.79 419.87,572.43 420.12,562.02 420.37,572.83 420.62,560.02 420.87,572.08 421.12,560.17 421.37,571.36 421.62,560.36 421.87,570.72 422.12,560.40 422.37,581.01 422.62,560.21 422.87,580.72 423.12,561.26 423.37,581.80 423.62,572.91 423.87,582.08 424.12,572.16 424.37,581.98 424.62,572.36 424.87,582.75 425.12,573.04 425.37,581.70 425.62,572.55 425.87,583.39 426.12,572.11 426.37,561.45 426.62,561.45 426.87,561.45 427.12,571.72 427.37,582.88 427.62,571.38 427.87,583.17 428.12,572.15 428.37,585.12 428.62,573.69 428.87,585.16 429.12,575.76 429.37,584.91 429.62,576.13 429.87,585.29 430.12,576.94 430.37,585.77 430.62,576.55 430.87,585.78 431.12,577.46 431.37,586.45 431.62,577.70 431.87,586.54 432.12,577.02 432.37,587.10 432.62,577.18 432.87,588.37 433.12,577.35 433.37,588.48 433.62,577.82 433.87,587.74 434.12,577.16 434.37,587.82 434.62,577.51 434.87,587.02 435.12,576.47 435.37,586.59 435.62,576.85 435.87,586.83 436.12,576.82 436.37,587.42 436.62,577.27 436.87,587.34 437.12,577.82 437.37,588.24 437.62,577.84 437.87,588.67 438.12,578.59 438.37,588.84 438.62,579.45 438.87,589.05 439.12,578.62 439.37,589.85 439.62,579.06 439.87,589.77 440.12,577.19 440.37,589.77 440.62,574.23 440.87,589.02 441.12,571.87 441.37,587.79 441.62,566.93 441.87,588.03 442.12,566.60 442.37,585.92 442.62,565.89 442.87,587.01 443.12,567.80 443.37,587.05 443.62,567.87 443.87,585.91 444.12,568.36 444.37,581.29 444.62,569.24 444.87,581.91 445.12,569.83 445.37,580.38 445.62,569.32 445.87,581.51 446.12,569.61 446.37,580.82 446.62,569.01 446.87,581.29 447.12,569.15 447.37,580.36 447.62,568.41 447.87,580.87 448.12,567.90 448.37,580.04 448.62,567.59 448.87,580.63 449.12,567.32 449.37,580.46 449.62,566.71 449.87,579.89 450.12,566.42 450.37,579.52 450.62,566.06 450.87,579.81 451.12,565.79 451.37,580.38 451.62,567.99 451.87,580.31 452.12,570.11 452.37,581.12 452.62,569.34 452.87,581.39 453.12,569.63 453.37,581.23 453.62,569.53 453.87,582.10 454.12,552.35 454.37,581.37 454.62,569.62 454.87,582.60 455.12,570.07 455.37,582.08 455.62,570.54 455.87,583.45 456.12,569.25 456.37,581.49 456.62,569.27 456.87,583.87 457.12,571.13 457.37,585.15 457.62,571.66 457.87,585.16 458.12,573.32 458.37,586.23 458.62,573.51 458.87,586.01 459.12,573.01 459.37,585.91 459.62,571.72 459.87,584.69 460.12,571.95 460.37,584.44 460.62,572.79 460.87,585.10 461.12,573.65 461.37,584.61 461.62,574.91 461.87,584.80 462.12,574.11 462.37,583.74 462.62,575.42 462.87,584.28 463.12,574.12 463.37,583.82 463.62,573.45 463.87,584.09 464.12,573.16 464.37,582.72 464.62,573.94 464.87,584.57 465.12,573.36 465.37,585.72 465.62,573.58 465.87,585.33 466.12,574.02 466.37,586.33 466.62,574.86 466.87,586.45 467.12,576.23 467.37,586.74 467.62,575.58 467.87,587.04 468.12,577.06 468.37,587.05 468.62,577.38 468.87,588.32 469.12,578.02 469.37,588.37 469.62,579.10 469.87,590.43 470.12,578.77 470.37,591.47 470.62,578.24 470.87,591.69 471.12,577.89 471.37,593.06 471.62,576.25 471.87,591.59 472.12,577.67 472.37,592.11 472.62,575.83 472.87,592.46 473.12,577.18 473.37,594.40 473.62,582.57 473.87,594.55 474.12,581.91 474.37,593.01 474.62,581.53 474.87,592.57 475.12,582.42 475.37,592.63 475.62,580.67 475.87,592.96 476.12,578.51 476.37,592.23 476.62,578.66 476.87,593.06 477.12,579.79 477.37,593.51 477.62,580.19 477.87,593.53 478.12,581.80 478.37,596.05 478.62,584.98 478.87,597.22 479.12,585.95 479.37,600.35 479.62,586.91 479.87,599.57 480.12,587.64 480.37,598.55 480.62,588.23 480.87,599.12 481.12,588.63 481.37,598.10 481.62,589.76 481.87,598.55 482.12,589.22 482.37,599.61 482.62,589.57 482.87,599.33 483.12,588.83 483.37,599.34 483.62,588.30 483.87,598.02 484.12,586.43 484.37,595.28 484.62,585.81 484.87,595.47 485.12,586.54 485.37,595.10 485.62,585.33 485.87,595.19 486.12,585.22 486.37,595.62 486.62,584.09 486.87,595.41 487.12,583.92 487.37,595.17 487.62,582.98 487.87,596.12 488.12,584.61 488.37,597.41 488.62,585.98 488.87,597.39 489.12,587.00 489.37,598.51 489.62,587.81 489.87,600.17 490.12,588.54 490.37,601.73 490.62,589.05 490.87,602.06 491.12,588.80 491.37,601.98 491.62,589.01 491.87,603.04 492.12,589.77 492.37,603.73 492.62,590.48 492.87,604.33 493.12,591.21 493.37,604.65 493.62,592.19 493.87,605.25 494.12,593.54 494.37,606.48 494.62,594.16 494.87,606.58 495.12,594.85 495.37,608.30 495.62,596.61 495.87,608.68 496.12,597.65 496.37,608.85 496.62,600.25 496.87,610.53 497.12,600.62 497.37,611.54 497.62,601.28 497.87,612.77 498.12,601.97 498.37,613.40 498.62,602.51 498.87,614.50 499.12,604.39 499.37,614.82 499.62,604.72 499.87,615.14 500.12,605.81 500.37,615.75 500.62,606.32 500.87,617.20 501.12,607.07 501.37,586.95 501.62,586.95 501.87,586.95 502.12,608.11 502.37,618.00 502.62,607.89 502.87,618.42 503.12,607.59 503.37,618.70 503.62,607.77 503.87,618.61 504.12,608.80 504.37,618.82 504.62,609.14 504.87,619.84 505.12,609.83 505.37,620.11 505.62,611.07 505.87,621.35 506.12,610.51 506.37,621.53 506.62,611.10 506.87,621.82 507.12,610.78 507.37,621.79 507.62,610.40 507.87,622.56 508.12,610.84 508.37,621.76 508.62,610.22 508.87,622.86 509.12,611.36 509.37,620.93 509.62,609.55 509.87,622.30 510.12,610.14 510.37,623.63 510.62,611.52 510.87,623.49 511.12,610.42 511.37,624.03 511.62,613.07 511.87,624.52 512.12,615.02 512.37,625.31 512.62,615.01 512.87,624.15 513.12,615.50 513.37,624.99 513.62,615.83 513.87,625.35 514.12,616.24 514.37,625.53 514.62,615.16 514.87,624.96 515.12,615.40 515.37,625.73 515.62,614.07 515.87,626.81 516.12,614.92 516.37,627.10 516.62,614.69 516.87,626.83 517.12,615.36 517.37,625.21 517.62,615.17 517.87,625.02 518.12,616.87 518.37,625.21 518.62,617.08 518.87,625.45 519.12,618.21 519.37,625.40 519.62,617.71 519.87,626.03 520.12,618.27 520.37,626.45 520.62,618.16 520.87,626.92 521.12,617.65 521.37,627.40 521.62,618.21 521.87,628.27 522.12,618.14 522.37,627.83 522.62,618.29 522.87,629.00 523.12,618.30 523.37,628.93 523.62,619.18 523.87,629.48 524.12,618.45 524.37,629.19 524.62,618.10 524.87,628.77 525.12,619.25 525.37,629.71 525.62,620.50 525.87,629.39 526.12,620.17 526.37,629.18 526.62,620.92 526.87,629.91 527.12,620.79 527.37,631.04 527.62,620.49 527.87,631.21 528.12,620.55 528.37,630.07 528.62,619.98 528.87,630.35 529.12,619.73 529.37,630.80 529.62,619.91 529.87,630.97 530.12,619.30 530.37,630.65 530.62,619.95 530.87,630.74 531.12,620.14 531.37,631.06 531.62,622.06 531.87,632.00 532.12,621.20 532.37,632.32 532.62,621.90 532.87,633.32 533.12,622.74 533.37,632.58 533.62,623.61 533.87,633.05 534.12,623.14 534.37,633.66 534.62,623.92 534.87,634.57 535.12,624.57 535.37,634.70 535.62,625.88 535.87,635.71 536.12,625.47 536.37,636.34 536.62,626.32 536.87,637.24 537.12,626.32 537.37,636.98 537.62,626.60 537.87,637.77 538.12,627.06 538.37,637.67 538.62,626.64 538.87,637.01 539.12,626.18 539.37,638.04 539.62,627.42 539.87,637.94 540.12,626.57 540.37,638.52 540.62,627.61 540.87,638.49 541.12,627.73 541.37,639.33 541.62,629.05 541.87,638.69 542.12,630.18 542.37,639.24 542.62,630.26 542.87,639.70 543.12,630.10 543.37,640.06 543.62,629.64 543.87,640.62 544.12,629.70 544.37,640.86 544.62,628.82 544.87,640.70 545.12,629.51 545.37,641.85 545.62,629.35 545.87,642.23 546.12,629.41 546.37,641.30 546.62,630.92 546.87,641.89 547.12,631.82 547.37,642.20 547.62,631.34 547.87,641.18 548.12,631.85 548.37,642.71 548.62,631.91 548.87,642.90 549.12,631.96 549.37,642.36 549.62,631.45 549.87,642.58 550.12,632.59 550.37,643.24 550.62,631.73 550.87,643.81 551.12,631.86 551.37,643.75 551.62,631.64 551.87,643.83 552.12,631.77 552.37,643.24 552.62,633.31 552.87,642.92 553.12,631.81 553.37,644.72 553.62,633.25 553.87,643.82 554.12,634.95 554.37,644.22 554.62,635.13 554.87,644.16 555.12,634.87 555.37,645.80 555.62,635.53 555.87,645.31 556.12,635.12 556.37,645.50 556.62,635.76 556.87,645.00 557.12,634.99 557.37,645.49 557.62,635.36 557.87,645.78 558.12,636.14 558.37,645.86 558.62,636.12 558.87,646.60 559.12,636.93 559.37,645.71 559.62,636.65 559.87,646.36 560.12,636.27 560.37,646.11 560.62,636.32 560.87,646.82 561.12,637.33 561.37,646.72 561.62,637.58 561.87,647.36 562.12,637.56 562.37,647.15 562.62,638.58 562.87,614.70 563.12,614.70 563.37,648.39 563.62,638.77 563.87,648.11 564.12,639.46 564.37,649.27 564.62,639.84 564.87,650.03 565.12,639.39 565.37,650.16 565.62,640.22 565.87,650.12 566.12,639.46 566.37,649.99 566.62,640.61 566.87,650.91 567.12,639.13 567.37,622.55 567.62,622.55 567.87,649.28 568.12,639.12 568.37,651.38 568.62,639.35 568.87,651.57 569.12,640.30 569.37,650.73 569.62,639.72 569.87,651.82 570.12,618.85 570.37,618.85 570.62,640.39 570.87,651.89 571.12,639.18 571.37,651.82 571.62,639.25 571.87,652.64 572.12,640.10 572.37,652.47 572.62,640.51 572.87,652.30 573.12,641.06 573.37,651.54 573.62,643.43 573.87,651.56 574.12,643.74 574.37,651.70 574.62,643.04 574.87,652.98 575.12,643.15 575.37,653.25 575.62,642.97 575.87,653.95 576.12,643.35 576.37,654.28 576.62,644.64 576.87,655.00 577.12,645.01 577.37,655.44 577.62,646.01 577.87,655.85 578.12,646.13 578.37,656.42 578.62,646.11 578.87,657.27 579.12,647.09 579.37,656.01 579.62,647.60 579.87,656.23 580.12,645.81 580.37,655.47 580.62,645.74 580.87,655.29 581.12,645.81 581.37,655.05 581.62,645.44 581.87,655.48 582.12,646.20 582.37,655.23 582.62,646.37 582.87,656.10 583.12,645.74 583.37,656.20 583.62,646.46 583.87,656.18 584.12,646.99 584.37,656.54 584.62,646.59 584.87,656.48 585.12,647.41 585.37,658.06 585.62,647.53 585.87,656.72 586.12,648.52 586.37,659.08 586.62,647.84 586.87,657.99 587.12,647.55 587.37,658.78 587.62,648.30 587.87,658.94 588.12,649.67 588.37,657.80 588.62,649.40 588.87,657.32 589.12,649.89 589.37,659.19 589.62,650.27 589.87,659.15 590.12,650.65 590.37,659.46 590.62,651.39 590.87,660.03 591.12,651.08 591.37,660.51 591.62,651.17 591.87,660.15 592.12,651.83 592.37,661.01 592.62,651.35 592.87,661.15 593.12,651.16 593.37,661.18 593.62,651.65 593.87,661.41 594.12,651.10 594.37,662.79 594.62,650.76 594.87,662.73 595.12,650.58 595.37,662.02 595.62,651.41 595.87,662.35 596.12,650.68 596.37,663.67 596.62,650.59 596.87,663.84 597.12,652.31 597.37,664.62 597.62,652.60 597.87,664.96 598.12,653.37 598.37,663.89 598.62,652.96 598.87,663.91 599.12,653.74 599.37,665.27 599.62,654.05 599.87,665.13 600.12,652.84 600.37,646.05 600.62,646.05 600.87,665.22 601.12,653.27 601.37,665.03 601.62,654.47 601.87,665.21 602.12,654.62 602.37,666.02 602.62,654.85 602.87,666.47 603.12,654.33 603.37,665.52 603.62,654.58 603.87,666.14 604.12,655.14 604.37,666.03 604.62,655.47 604.87,666.36 605.12,655.06 605.37,665.74 605.62,655.33 605.87,666.16 606.12,655.78 606.37,666.33 606.62,655.63 606.87,666.72 607.12,655.69 607.37,665.77 607.62,655.44 607.87,666.42 608.12,655.48 608.37,666.94 608.62,656.46 608.87,666.58 609.12,655.94 609.37,667.77 609.62,656.30 609.87,667.59 610.12,656.19 610.37,667.89 610.62,657.93 610.87,668.62 611.12,655.59 611.37,668.80 611.62,656.22 611.87,668.59 612.12,657.30 612.37,644.20 612.62,644.20 612.87,644.20 613.12,655.85 613.37,669.79 613.62,655.34 613.87,669.20 614.12,656.49 614.37,670.72 614.62,659.59 614.87,670.24 615.12,659.32 615.37,670.50 615.62,659.14 615.87,670.84 616.12,661.08 616.37,669.55 616.62,660.43 616.87,670.34 617.12,660.78 617.37,670.82 617.62,661.01 617.87,671.34 618.12,659.24 618.37,671.30 618.62,660.26 618.87,671.00 619.12,659.66 619.37,672.17 619.62,660.83 619.87,670.90 620.12,660.87 620.37,671.18 620.62,661.07 620.87,672.92 621.12,661.82 621.37,672.35 621.62,662.75 621.87,673.28 622.12,662.93 622.37,672.66 622.62,663.31 622.87,673.50 623.12,664.47 623.37,674.46 623.62,664.60 623.87,674.47 624.12,665.77 624.37,674.28 624.62,664.33 624.87,674.37 625.12,664.21 625.37,673.70 625.62,664.20 625.87,674.00 626.12,664.96 626.37,676.13 626.62,665.96 626.87,676.28 627.12,666.95 627.37,676.86 627.62,667.37 627.87,676.79 628.12,666.94 628.37,677.08 628.62,666.92 628.87,677.10 629.12,667.77 629.37,677.29 629.62,667.88 629.87,678.35 630.12,667.76 630.37,677.69 630.62,668.49 630.87,676.47 631.12,668.57 631.37,677.73 631.62,668.74 631.87,678.14 632.12,670.33 632.37,677.52 632.62,668.97 632.87,677.40 633.12,668.75 633.37,657.15 633.62,657.15 633.87,677.34 634.12,668.38 634.37,677.99 634.62,668.25 634.87,677.99 635.12,668.05 635.37,678.04 635.62,666.87 635.87,678.60 636.12,666.21 636.37,678.44 636.62,667.25 636.87,677.37 637.12,665.34 637.37,680.13 637.62,665.98 637.87,679.78 638.12,664.49 638.37,680.52 638.62,665.16 638.87,681.49 639.12,667.41 639.37,680.56 639.62,669.97 639.87,681.13 640.12,670.17 640.37,681.46 640.62,671.29 640.87,680.95 641.12,670.11 641.37,681.56 641.62,669.87 641.87,681.29 642.12,670.29 642.37,681.52 642.62,669.62 642.87,680.71 643.12,668.62 643.37,680.54 643.62,668.22 643.87,681.46 644.12,649.25 644.37,680.20 644.62,668.92 644.87,681.21 645.12,667.07 645.37,681.93 645.62,668.61 645.87,682.16 646.12,668.81 646.37,682.47 646.62,669.39 646.87,682.17 647.12,651.85 647.37,651.85 647.62,651.85 647.87,682.43 648.12,672.76 648.37,683.04 648.62,673.27 648.87,683.60 649.12,672.77 649.37,684.12 649.62,673.81 649.87,684.12 650.12,673.67 650.37,684.73 650.62,673.58 650.87,684.37 651.12,673.66 651.37,683.84 651.62,674.49 651.87,684.14 652.12,674.02 652.37,684.94 652.62,673.93 652.87,684.12 653.12,673.82 653.37,684.62 653.62,673.54 653.87,684.75 654.12,675.60 654.37,685.15 654.62,674.54 654.87,684.68 655.12,675.34 655.37,684.57 655.62,673.07 655.87,685.89 656.12,672.44 656.37,686.36 656.62,672.20 656.87,686.20 657.12,671.83 657.37,685.88 657.62,675.17 657.87,686.90 658.12,674.31 658.37,686.63 658.62,675.06 658.87,686.52 659.12,676.02 659.37,685.18 659.62,676.20 659.87,686.79 660.12,676.47 660.37,687.47 660.62,676.82 660.87,687.99 661.12,677.19 661.37,687.80 661.62,677.64 661.87,688.05 662.12,677.85 662.37,688.44 662.62,677.77 662.87,688.51 663.12,678.04 663.37,688.54 663.62,679.02 663.87,689.23 664.12,678.75 664.37,688.43 664.62,678.14 664.87,688.25 665.12,677.87 665.37,688.23 665.62,677.72 665.87,688.63 666.12,678.48 666.37,689.40 666.62,678.58 666.87,688.25 667.12,678.26 667.37,689.08 667.62,678.61 667.87,688.20 668.12,678.53 668.37,688.21 668.62,678.68 668.87,688.51 669.12,678.42 669.37,687.79 669.62,677.60 669.87,687.98 670.12,678.56 670.37,689.70 670.62,679.72 670.87,689.42 671.12,679.47 671.37,690.04 671.62,680.22 671.87,690.21 672.12,680.61 672.37,689.88 672.62,680.27 672.87,689.64 673.12,679.58 673.37,690.36 673.62,680.62 673.87,690.40 674.12,680.25 674.37,690.02 674.62,679.86 674.87,690.62 675.12,679.51 675.37,690.39 675.62,679.30 675.87,690.26 676.12,679.18 676.37,691.39 676.62,680.48 676.87,690.38 677.12,679.34 677.37,690.25 677.62,679.34 677.87,690.08 678.12,679.40 678.37,690.07 678.62,679.40 678.87,690.10 679.12,680.11 679.37,689.54 679.62,679.61 679.87,689.57 680.12,679.01 680.37,689.83 680.62,680.88 680.87,690.12 681.12,681.15 681.37,690.58 681.62,680.38 681.87,691.19 682.12,680.72 682.37,691.07 682.62,681.05 682.87,691.57 683.12,681.45 683.37,692.69 683.62,681.44 683.87,691.81 684.12,681.76 684.37,693.00 684.62,682.27 684.87,693.25 685.12,681.75 685.37,692.63 685.62,682.01 685.87,692.27 686.12,683.29 686.37,691.65 686.62,683.07 686.87,692.50 687.12,682.90 687.37,692.61 687.62,683.20 687.87,692.56 688.12,683.50 688.37,692.85 688.62,683.58 688.87,693.18 689.12,682.32 689.37,693.27 689.62,682.10 689.87,693.05 690.12,682.72 690.37,692.96 690.62,682.92 690.87,694.06 691.12,683.46 691.37,693.58 691.62,683.21 691.87,696.28 692.12,683.99 692.37,695.91 692.62,684.04 692.87,695.80 693.12,684.28 693.37,695.59 693.62,684.56 693.87,695.18 694.12,684.89 694.37,695.36 694.62,685.00 694.87,695.78 695.12,686.05 695.37,696.44 695.62,685.06 695.87,696.81 696.12,685.07 696.37,696.74 696.62,683.78 696.87,695.95 697.12,684.54 697.37,696.34 697.62,685.74 697.87,698.55 698.12,686.42 698.37,697.79 698.62,685.92 698.87,697.98 699.12,686.41 699.37,696.35 699.62,685.59 699.87,696.89 700.12,686.35 700.37,696.75 700.62,686.33 700.87,697.03 701.12,686.43 701.37,697.19 701.62,686.66 701.87,697.17 702.12,686.22 702.37,696.29 702.62,686.07 702.87,697.38 703.12,685.97 703.37,697.39 703.62,686.70 703.87,697.00 704.12,686.96 704.37,696.51 704.62,687.22 704.87,696.91 705.12,687.46 705.37,697.33 705.62,687.40 705.87,698.09 706.12,688.03 706.37,698.16 706.62,688.13 706.87,698.82 707.12,688.35 707.37,698.67 707.62,688.16 707.87,698.21 708.12,689.43 708.37,698.72 708.62,689.19 708.87,698.78 709.12,689.16 709.37,698.15 709.62,689.00 709.87,699.56 710.12,688.74 710.37,699.07 710.62,689.03 710.87,698.97 711.12,688.65 711.37,698.52 711.62,689.55 711.87,699.27 712.12,688.25 712.37,700.23 712.62,688.62 712.87,700.36 713.12,687.63 713.37,700.91 713.62,688.20 713.87,700.80 714.12,689.21 714.37,701.86 714.62,689.51 714.87,701.01 715.12,690.36 715.37,701.94 715.62,690.79 715.87,701.50 716.12,690.80 716.37,702.19 716.62,691.16 716.87,702.15 717.12,692.30 717.37,702.64 717.62,692.97 717.87,702.50 718.12,692.73 718.37,702.81 718.62,693.27 718.87,702.76 719.12,692.03 719.37,702.16 719.62,691.44 719.87,702.63 720.12,690.24 720.37,701.96 720.62,690.67 720.87,701.98 721.12,690.17 721.37,701.52 721.62,688.54 721.87,702.09 722.12,689.84 722.37,701.70 722.62,690.29 722.87,702.04 723.12,690.39 723.37,701.91 723.62,691.69 723.87,702.35 724.12,691.02 724.37,702.31 724.62,691.79 724.87,701.45 725.12,691.71 725.37,701.74 725.62,692.08 725.87,701.46 726.12,692.59 726.37,703.00 726.62,692.57 726.87,703.25 727.12,691.85 727.37,702.88 727.62,691.97 727.87,703.32 728.12,693.15 728.37,704.09 728.62,693.12 728.87,703.81 729.12,693.56 729.37,704.10 729.62,693.65 729.87,703.60 730.12,694.44 730.37,704.35 730.62,693.93 730.87,704.92 731.12,694.92 731.37,704.01 731.62,694.83 731.87,704.79 732.12,694.55 732.37,704.45 732.62,694.16 732.87,704.94 733.12,694.77 733.37,704.81 733.62,695.52 733.87,705.36 734.12,695.33 734.37,705.34 734.62,695.63 734.87,705.41 735.12,695.58 735.37,706.32 735.62,696.90 735.87,705.96 736.12,695.96 736.37,706.38 736.62,697.27 736.87,705.60 737.12,695.87 737.37,706.00 737.62,695.16 737.87,705.99 738.12,695.71 738.37,705.76 738.62,695.31 738.87,705.74 739.12,695.52 739.37,707.03 739.62,695.92 739.87,705.99 740.12,696.94 740.37,707.37 740.62,697.45 740.87,707.50 741.12,698.40 741.37,707.83 741.62,697.95 741.87,706.95 742.12,697.53 742.37,707.22 742.62,697.94 742.87,708.26 743.12,698.57 743.37,708.16 743.62,698.35 743.87,707.71 744.12,698.37 744.37,708.22 744.62,697.81 744.87,707.80 745.12,697.76 745.37,708.14 745.62,697.52 745.87,707.92 746.12,698.09 746.37,708.22 746.62,698.39 746.87,708.73 747.12,697.94 747.37,709.13 747.62,698.62 747.87,708.25 748.12,697.83 748.37,708.76 748.62,698.85 748.87,708.36 749.12,698.17 749.37,707.59 749.62,698.86 749.87,708.82 750.12,698.26 750.37,709.51 750.62,698.71 750.87,708.62 751.12,699.27 751.37,709.42 751.62,698.96 751.87,709.38 752.12,699.19 752.37,710.24 752.62,699.88 752.87,709.69 753.12,686.85 753.37,686.85 753.62,686.85 753.87,686.85 754.12,699.52 754.37,711.15 754.62,700.11 754.87,710.96 755.12,699.23 755.37,708.92 755.62,699.59 755.87,709.40 756.12,699.01 756.37,710.20 756.62,698.45 756.87,709.57 757.12,698.94 757.37,708.64 757.62,698.87 757.87,709.56 758.12,697.98 758.37,709.68 758.62,699.06 758.87,709.23 759.12,698.02 759.37,708.86 759.62,698.77 759.87,709.72 760.12,697.94 760.37,709.66 760.62,698.07 760.87,709.96 761.12,698.18 761.37,709.44 761.62,698.80 761.87,710.04 762.12,699.47 762.37,709.35 762.62,700.73 762.87,710.24 763.12,700.53 763.37,710.29 763.62,699.89 763.87,709.62 764.12,700.95 764.37,710.75 764.62,700.59 764.87,710.67 765.12,700.83 765.37,710.24 765.62,700.84 765.87,710.94 766.12,701.46 766.37,711.43 766.62,701.10 766.87,710.38 767.12,699.98 767.37,709.96 767.62,699.49 767.87,710.88 768.12,698.98 768.37,710.91 768.62,698.34 768.87,710.65 769.12,698.61 769.37,709.95 769.62,699.33 769.87,708.42 770.12,671.75 770.37,671.75 770.62,671.75 770.87,671.75 771.12,697.48 771.37,708.45 771.62,697.37 771.87,709.35 772.12,697.96 772.37,709.06 772.62,698.24 772.87,708.71 773.12,697.70 773.37,708.83 773.62,698.16 773.87,708.45 774.12,697.69 774.37,707.84 774.62,697.57 774.87,707.73 775.12,697.80 775.37,707.86 775.62,697.39 775.87,707.75 776.12,697.91 776.37,706.59 776.62,696.39 776.87,706.74 777.12,695.82 777.37,706.54 777.62,695.26 777.87,706.39 778.12,694.99 778.37,706.77 778.62,695.03 778.87,706.23 779.12,695.40 779.37,705.52 779.62,695.48 779.87,704.35 780.12,695.82 780.37,704.61 780.62,696.35 780.87,704.48 781.12,695.76 781.37,704.00 781.62,694.99 781.87,702.97 782.12,693.55 782.37,701.99 782.62,693.55 782.87,701.98 783.12,693.52 783.37,701.19 783.62,693.60 783.87,701.77 784.12,692.92 784.37,702.17 784.62,693.23 784.87,701.65 785.12,692.02 785.37,701.16 785.62,691.57 785.87,700.52 786.12,691.28 786.37,700.84 786.62,690.74 786.87,699.51 787.12,690.18 787.37,700.37 787.62,691.30 787.87,699.76 788.12,690.48 788.37,699.81 788.62,690.45 788.87,699.06 789.12,689.65 789.37,698.06 789.62,688.95 789.87,697.77 790.12,687.76 790.37,697.84 790.62,687.49 790.87,698.03 791.12,687.23 791.37,697.18 791.62,686.83 791.87,698.18 792.12,686.93 792.37,698.03 792.62,686.82 792.87,696.82 793.12,687.30 793.37,697.35 793.62,686.66 793.87,695.88 794.12,685.84 794.37,696.26 794.62,685.33 794.87,696.77 795.12,686.31 795.37,695.10 795.62,685.74 795.87,695.42 796.12,685.15 796.37,694.91 796.62,685.08 796.87,694.40 797.12,684.11 797.37,693.23 797.62,683.88 797.87,693.35 798.12,683.56 798.37,692.28 798.62,682.92 798.87,691.15 799.12,683.53 799.37,691.97 799.62,682.88 799.87,691.76 800.12,681.98 800.37,691.77 800.62,681.42 800.87,691.22 801.12,680.79 801.37,690.59 801.62,680.10 801.87,689.62 802.12,681.03 802.37,689.24 802.62,681.11 802.87,688.70 803.12,678.95 803.37,687.30 803.62,678.13 803.87,686.67 804.12,678.58 804.37,687.23 804.62,679.58 804.87,686.82 805.12,678.25 805.37,686.27 805.62,677.96 805.87,686.07 806.12,678.79 806.37,685.96 806.62,677.50 806.87,685.69 807.12,677.73 807.37,685.26 807.62,677.58 807.87,684.52 808.12,677.68 808.37,684.39 808.62,677.61 808.87,683.93"/>
</g>
<g stroke="#000" stroke-width="1.11" fill="none">
<line x1="150.5" y1="712.5" x2="150.5" y2="717.9"/>
<line x1="266.5" y1="712.5" x2="266.5" y2="717.9"/>
<line x1="383.5" y1="712.5" x2="383.5" y2="717.9"/>
<line x1="499.5" y1="712.5" x2="499.5" y2="717.9"/>
<line x1="615.5" y1="712.5" x2="615.5" y2="717.9"/>
<line x1="731.5" y1="712.5" x2="731.5" y2="717.9"/>
<line x1="848.5" y1="712.5" x2="848.5" y2="717.9"/>
<line x1="964.5" y1="712.5" x2="964.5" y2="717.9"/>
<line x1="1080.5" y1="712.5" x2="1080.5" y2="717.9"/>
<line x1="145.1" y1="712.5" x2="150.5" y2="712.5"/>
<line x1="145.1" y1="624.5" x2="150.5" y2="624.5"/>
<line x1="145.1" y1="536.5" x2="150.5" y2="536.5"/>
<line x1="145.1" y1="448.5" x2="150.5" y2="448.5"/>
<line x1="145.1" y1="360.5" x2="150.5" y2="360.5"/>
<line x1="145.1" y1="272.5" x2="150.5" y2="272.5"/>
<line x1="145.1" y1="184.5" x2="150.5" y2="184.5"/>
<line x1="145.1" y1="96.5" x2="150.5" y2="96.5"/>
<rect x="150.5" y="96.5" width="930.0" height="616.0"/>
</g>
<g class="tick">
<text x="150.30" y="740.2" text-anchor="middle">0</text>
<text x="267.15" y="740.2" text-anchor="middle">3</text>
<text x="383.20" y="740.2" text-anchor="middle">6</text>
<text x="499.05" y="740.2" text-anchor="middle">9</text>
<text x="600.95 614.25" y="740.2">12</text>
<text x="717.95 731.25" y="740.2">15</text>
<text x="834.35 847.65" y="740.2">18</text>
<text x="950.30 963.60" y="740.2">21</text>
<text x="1066.75 1080.05" y="740.2">24</text>
<text x="141.2" y="721.10" text-anchor="end">0</text>
<text x="141.2" y="633.10" text-anchor="end">2</text>
<text x="140.2" y="545.10" text-anchor="end">4</text>
<text x="141.2" y="457.10" text-anchor="end">6</text>
<text x="141.1" y="369.10" text-anchor="end">8</text>
<text x="112.04 125.1" y="281.10">10</text>
<text x="112.04 125.1" y="193.10">12</text>
<text x="112.04 125.1" y="105.10">14</text>
</g>
<text class="title" x="344.1" y="88.3" textLength="540.9" lengthAdjust="spacing">POLAND-BALDY of 2026/03/06 with focus code = 62</text>
<text class="lab" x="614.7" y="765.5" text-anchor="middle">Universal Time [h]</text>
<text class="lab" transform="translate(100.5 405.5) rotate(-90)" text-anchor="middle">Y-factor [dB]</text>
<g>
<rect x="918.5" y="104.5" width="154.1" height="51.5" rx="3.5" ry="3.5" fill="#ffffff" fill-opacity="0.8" stroke="#cccccc" stroke-width="1.11"/>
<line x1="923" y1="117" x2="959" y2="117" stroke="#0000ff" stroke-width="2.08"/>
<line x1="923" y1="141" x2="959" y2="141" stroke="#008000" stroke-width="2.08"/>
<text class="leg" x="981.7" y="123" xml:space="preserve">48.2 MHz</text>
<text class="leg" x="981.7" y="146.2" xml:space="preserve">71.1 MHz</text>
</g>
</svg>
</body>
</html>
